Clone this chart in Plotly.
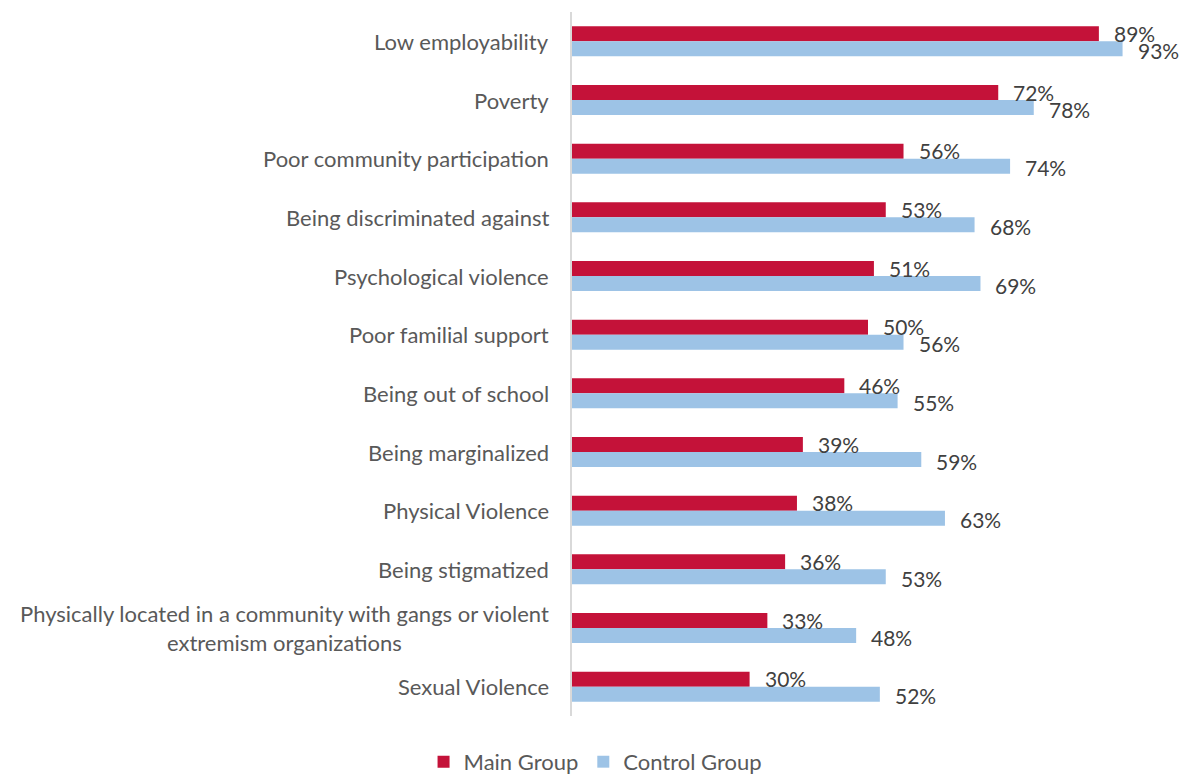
import plotly.graph_objects as go

categories = [
    "Low employability",
    "Poverty",
    "Poor community participation",
    "Being discriminated against",
    "Psychological violence",
    "Poor familial support",
    "Being out of school",
    "Being marginalized",
    "Physical Violence",
    "Being stigmatized",
    "Physically located in a community with gangs or violent<br>extremism organizations",
    "Sexual Violence",
]
main_group = [89, 72, 56, 53, 51, 50, 46, 39, 38, 36, 33, 30]
control_group = [93, 78, 74, 68, 69, 56, 55, 59, 63, 53, 48, 52]

MAIN_COLOR = "#C41239"
CONTROL_COLOR = "#9DC3E6"
FONT = "Lato"

fig = go.Figure()
fig.add_trace(go.Bar(
    y=categories, x=main_group, orientation="h", name="Main Group",
    marker=dict(color=MAIN_COLOR, line=dict(width=0)),
))
fig.add_trace(go.Bar(
    y=categories, x=control_group, orientation="h", name="Control Group",
    marker=dict(color=CONTROL_COLOR, line=dict(width=0)),
))

annotations = []
# category labels, centered when wrapped
for c in categories:
    annotations.append(dict(
        x=0, xref="paper", y=c, yref="y", text=c, showarrow=False,
        xanchor="right", yanchor="middle", align="center", xshift=-21,
        font=dict(family=FONT, size=22, color="#595959"),
    ))
# value labels at bar ends
for c, m, k in zip(categories, main_group, control_group):
    annotations.append(dict(
        x=m, y=c, xref="x", yref="y", text=f"{m}%", showarrow=False,
        xanchor="left", yanchor="middle", xshift=13, yshift=8,
        font=dict(family=FONT, size=21, color="#404040"),
    ))
    annotations.append(dict(
        x=k, y=c, xref="x", yref="y", text=f"{k}%", showarrow=False,
        xanchor="left", yanchor="middle", xshift=13, yshift=-9,
        font=dict(family=FONT, size=21, color="#404040"),
    ))

fig.update_layout(
    width=1184, height=779,
    margin=dict(l=572, r=20, t=12, b=63),
    barmode="group", bargap=0.49, bargroupgap=0,
    plot_bgcolor="white", paper_bgcolor="white",
    font=dict(family=FONT, size=21, color="#595959"),
    showlegend=True,
    legend=dict(
        orientation="h", xref="container", yref="container",
        x=0.503, y=0.022, xanchor="center", yanchor="middle",
        font=dict(family=FONT, size=22, color="#595959"),
        itemwidth=30, traceorder="normal",
    ),
    annotations=annotations,
)
fig.update_xaxes(range=[0, 100], visible=False, fixedrange=True)
fig.update_yaxes(
    autorange="reversed", showticklabels=False, ticks="",
    showline=True, linecolor="#D9D9D9", linewidth=1.5,
    showgrid=False, zeroline=False,
)

fig.write_html("out.html")
